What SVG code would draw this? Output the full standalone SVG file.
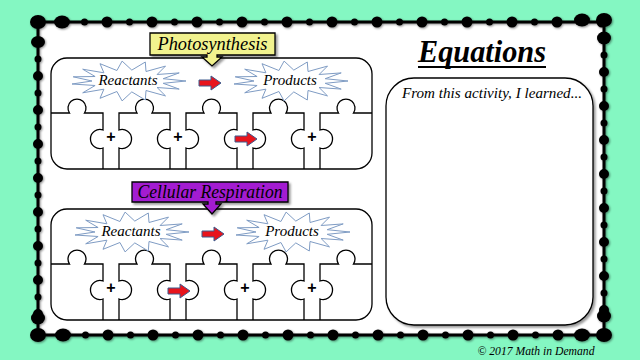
<svg xmlns="http://www.w3.org/2000/svg" xmlns:xlink="http://www.w3.org/1999/xlink" width="640" height="360" viewBox="0 0 640 360">
<style>
.script{font-family:"Liberation Serif","DejaVu Serif",serif;font-style:italic;fill:#000}
.pl{fill:none;stroke:#000;stroke-width:1.3}
.burst{fill:#fff;stroke:#7f9cc4;stroke-width:1}
.op{font-family:"Liberation Sans",Arial,sans-serif;font-weight:bold;font-size:16px;text-anchor:middle;fill:#000}
.arr{fill:#e8141c;stroke:#3c5a8c;stroke-width:1}
.dot{fill:none;stroke:#000;stroke-linecap:round}
</style>
<defs>
<filter id="sh" x="-10%" y="-10%" width="120%" height="120%"><feDropShadow dx="1" dy="1" stdDeviation="1.3" flood-color="#000" flood-opacity="0.45"/></filter>
<filter id="bsh" x="-10%" y="-10%" width="130%" height="130%"><feDropShadow dx="2" dy="2" stdDeviation="1" flood-color="#000" flood-opacity="0.4"/></filter>
<polygon id="burst" class="burst" points="58,0 35.2,2.3 51.2,8.1 29.1,6.5 37.5,14.9 18,9.5 17.3,19 3.8,10.9 -5.9,19.9 -11.1,10.5 -28,17.3 -24.1,8.2 -45.3,11.8 -32.9,4.5 -56,3 -36,0 -54.8,-4.2 -32.9,-4.5 -45.3,-11.8 -24.1,-8.2 -28,-17.3 -11.1,-10.5 -5.9,-19.9 3.8,-10.9 17.3,-19 18,-9.5 37.5,-14.9 29.1,-6.5 51.2,-8.1 35.2,-2.3"/>
<path id="arrow" class="arr" d="M0,-3 H12 V-7 L22,0 L12,7 V3 H0 Z"/>
<g id="puzzle">
<rect x="51" y="58" width="321" height="111" rx="16" fill="#fff" stroke="#000" stroke-width="1.3"/>
<path class="pl" d="M51,113 H69.5 A9,9 0 1 1 84.5,113 H103 V130 A9.5,9.5 0 1 0 103,148 V169"/>
<path class="pl" d="M119,169 V148 A9.5,9.5 0 1 0 119,130 V113 H137 A9,9 0 1 1 152,113 H170 V130 A9.5,9.5 0 1 0 170,148 V169"/>
<path class="pl" d="M186,169 V148 A9.5,9.5 0 1 0 186,130 V113 H204 A9,9 0 1 1 219,113 H237 V130 A9.5,9.5 0 1 0 237,148 V169"/>
<path class="pl" d="M253,169 V148 A9.5,9.5 0 1 0 253,130 V113 H271 A9,9 0 1 1 286,113 H304 V130 A9.5,9.5 0 1 0 304,148 V169"/>
<path class="pl" d="M320,169 V148 A9.5,9.5 0 1 0 320,130 V113 H338.5 A9,9 0 1 1 353.5,113 H372"/>
</g>
</defs>
<rect width="640" height="360" fill="#84f7c2"/>
<g id="frame">
<rect x="38" y="22" width="566" height="313" fill="#fff"/>
<g filter="url(#sh)">
<rect x="38" y="22" width="566" height="313" fill="none" stroke="#000" stroke-width="3"/>
<path class="dot" stroke-width="11" stroke-dasharray="0 45" d="M62,22 H604 M63,335 H604"/>
<path class="dot" stroke-width="7" stroke-dasharray="0 45" d="M84.5,22 H590 M85.5,335 H590"/>
<path class="dot" stroke-width="10" stroke-dasharray="0 34" d="M38,42 V320 M604,38 V320"/>
<path class="dot" stroke-width="7" stroke-dasharray="0 34" d="M38,59 V320 M604,55 V320"/>
<ellipse cx="38" cy="22" rx="8" ry="7"/>
<ellipse cx="604" cy="20" rx="8" ry="7"/>
<ellipse cx="38" cy="335" rx="8" ry="7"/>
<ellipse cx="604" cy="335" rx="8" ry="7"/>
<ellipse cx="62" cy="22" rx="8" ry="6.5"/>
<ellipse cx="38" cy="42" rx="7" ry="6"/>
<ellipse cx="63" cy="335" rx="8" ry="6.5"/>
<ellipse cx="38" cy="318" rx="7" ry="6.5"/>
<ellipse cx="582" cy="335" rx="8" ry="6.5"/>
<ellipse cx="604" cy="316" rx="7" ry="6.5"/>
<ellipse cx="582" cy="20" rx="8" ry="6.5"/>
<ellipse cx="604" cy="38" rx="7" ry="6.5"/>
</g>
</g>
<g id="panel-photosynthesis">
<use xlink:href="#puzzle"/>
<use xlink:href="#burst" x="128" y="81"/>
<text class="script" x="128" y="85" font-size="15" text-anchor="middle">Reactants</text>
<use xlink:href="#burst" x="290" y="81"/>
<text class="script" x="290" y="85" font-size="15" text-anchor="middle">Products</text>
<use xlink:href="#arrow" x="199" y="83"/>
<text class="op" x="111" y="141.5">+</text>
<text class="op" x="178" y="141.5">+</text>
<use xlink:href="#arrow" x="235" y="139"/>
<text class="op" x="312" y="141.5">+</text>
</g>
<g id="label-photosynthesis">
<path d="M150,33 H275 V55 H217 V57 H222 L212,66 L202,57 H207 V55 H150 Z" fill="#f1f28e" stroke="#000" stroke-width="1.3" filter="url(#bsh)"/>
<text class="script" x="212.5" y="50" font-size="18" text-anchor="middle" textLength="110" lengthAdjust="spacingAndGlyphs">Photosynthesis</text>
</g>
<g id="panel-respiration">
<use xlink:href="#puzzle" y="151"/>
<use xlink:href="#burst" x="131" y="232"/>
<text class="script" x="131" y="236" font-size="15" text-anchor="middle">Reactants</text>
<use xlink:href="#burst" x="292" y="232"/>
<text class="script" x="292" y="236" font-size="15" text-anchor="middle">Products</text>
<use xlink:href="#arrow" x="202" y="234"/>
<text class="op" x="111" y="292.5">+</text>
<use xlink:href="#arrow" x="168" y="291"/>
<text class="op" x="245" y="292.5">+</text>
<text class="op" x="312" y="292.5">+</text>
</g>
<g id="label-respiration">
<path d="M132,182 H288 V202 H216 V204 H221 L212,214 L203,204 H208 V202 H132 Z" fill="#a31fd1" stroke="#000" stroke-width="1.3" filter="url(#bsh)"/>
<text class="script" x="210" y="198" font-size="18" text-anchor="middle" textLength="145" lengthAdjust="spacingAndGlyphs">Cellular Respiration</text>
</g>
<g id="equations">
<text class="script" x="482" y="62" font-size="32" font-weight="bold" text-anchor="middle" textLength="128" lengthAdjust="spacingAndGlyphs">Equations</text>
<line x1="418" y1="67" x2="546" y2="67" stroke="#000" stroke-width="2"/>
<rect x="386" y="78" width="207" height="247" rx="28" fill="#fff" stroke="#000" stroke-width="1.3" filter="url(#bsh)"/>
<text class="script" x="492" y="98" font-size="14" text-anchor="middle" textLength="180" lengthAdjust="spacingAndGlyphs">From this activity, I learned...</text>
</g>
<text id="copyright" class="script" x="536" y="355" font-size="12" text-anchor="middle" textLength="117" lengthAdjust="spacingAndGlyphs">© 2017 Math in Demand</text>
</svg>
